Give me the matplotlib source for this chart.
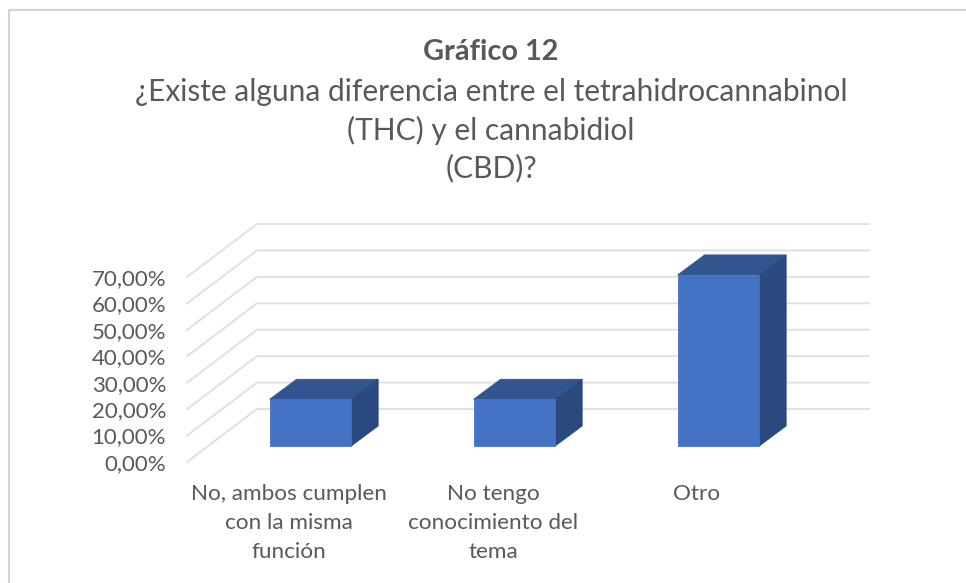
#!/usr/bin/env python3
"""Excel style pseudo 3D column chart: Grafico 12."""

import matplotlib.pyplot as plt
from matplotlib.lines import Line2D
from matplotlib.patches import Polygon

CATEGORIES = ["No, ambos cumplen\ncon la misma\nfunción", "No tengo\nconocimiento del\ntema", "Otro"]
VALUES = [17.65, 17.65, 64.71]
Y_TICKS = [0, 10, 20, 30, 40, 50, 60, 70]
Y_TICK_LABELS = ["0,00%", "10,00%", "20,00%", "30,00%", "40,00%", "50,00%", "60,00%", "70,00%"]
TITLE_BOLD = "Gráfico 12"
TITLE_LINES = [
    "¿Existe alguna diferencia entre el tetrahidrocannabinol",
    "(THC) y el cannabidiol",
    "(CBD)?",
]

W, H = 966, 583
FONT = "Lato"
TEXT_COLOR = "#595959"
GRID_COLOR = "#E0E0E0"
BORDER_COLOR = "#D4D4D4"
FRONT = "#4472C4"
TOP = "#32558F"
SIDE = "#2A4A7F"

# depth of the floor and of one bar, in data units (categories, percent)
FLOOR_DX, FLOOR_DY = 0.343, 20.05
BAR_OFF_X, BAR_OFF_Y = 0.105, 6.06
BAR_DX, BAR_DY = 0.132, 7.58
BAR_WIDTH = 0.40


def main() -> None:
    fig = plt.figure(figsize=(W / 100, H / 100), dpi=100)

    # only the top and left edges of the chart frame are in the crop
    fig.add_artist(Line2D([9 / W, 9 / W, 1], [0, 1 - 9.5 / H, 1 - 9.5 / H], color=BORDER_COLOR,
                          linewidth=1.5, transform=fig.transFigure, solid_joinstyle="miter"))

    # axes is the front plane of the floor
    ax = fig.add_axes([187 / W, (H - 462) / H, 612 / W, 185 / H])
    ax.set_xlim(-0.5, 2.5)
    ax.set_ylim(0, 70)
    for spine in ax.spines.values():
        spine.set_visible(False)
    ax.patch.set_visible(False)

    for v in Y_TICKS:
        ax.plot([-0.5, -0.5 + FLOOR_DX, 2.5 + FLOOR_DX], [v, v + FLOOR_DY, v + FLOOR_DY],
                color=GRID_COLOR, linewidth=1.4, clip_on=False, zorder=1,
                solid_joinstyle="miter")

    for c, v in enumerate(VALUES):
        x0 = c + BAR_OFF_X - BAR_WIDTH / 2
        x1 = x0 + BAR_WIDTH
        y0 = BAR_OFF_Y
        y1 = BAR_OFF_Y + v
        faces = [
            ([(x0, y1), (x1, y1), (x1 + BAR_DX, y1 + BAR_DY), (x0 + BAR_DX, y1 + BAR_DY)], TOP),
            ([(x1, y0), (x1 + BAR_DX, y0 + BAR_DY), (x1 + BAR_DX, y1 + BAR_DY), (x1, y1)], SIDE),
            ([(x0, y0), (x1, y0), (x1, y1), (x0, y1)], FRONT),
        ]
        for pts, color in faces:
            ax.add_patch(Polygon(pts, closed=True, facecolor=color, edgecolor=color,
                                 linewidth=0.6, clip_on=False, zorder=3))

    ax.set_yticks(Y_TICKS, Y_TICK_LABELS)
    ax.set_xticks(range(len(CATEGORIES)), CATEGORIES)
    ax.tick_params(axis="y", length=0, pad=15, labelsize=16, labelcolor=TEXT_COLOR)
    ax.tick_params(axis="x", length=0, pad=16, labelsize=16.2, labelcolor=TEXT_COLOR)
    for label in ax.get_xticklabels() + ax.get_yticklabels():
        label.set_fontfamily(FONT)
    for label in ax.get_xticklabels():
        label.set_linespacing(1.55)

    fig.text(491 / W, 1 - 52 / H, TITLE_BOLD, ha="center", va="center", fontsize=20.8,
             fontweight="bold", family=FONT, color=TEXT_COLOR)
    for y, line in zip([92, 130, 168], TITLE_LINES):
        fig.text(491 / W, 1 - y / H, line, ha="center", va="center", fontsize=21.5,
                 family=FONT, color=TEXT_COLOR)

    fig.savefig("out.png", dpi=100)
    plt.close(fig)


if __name__ == "__main__":
    main()
